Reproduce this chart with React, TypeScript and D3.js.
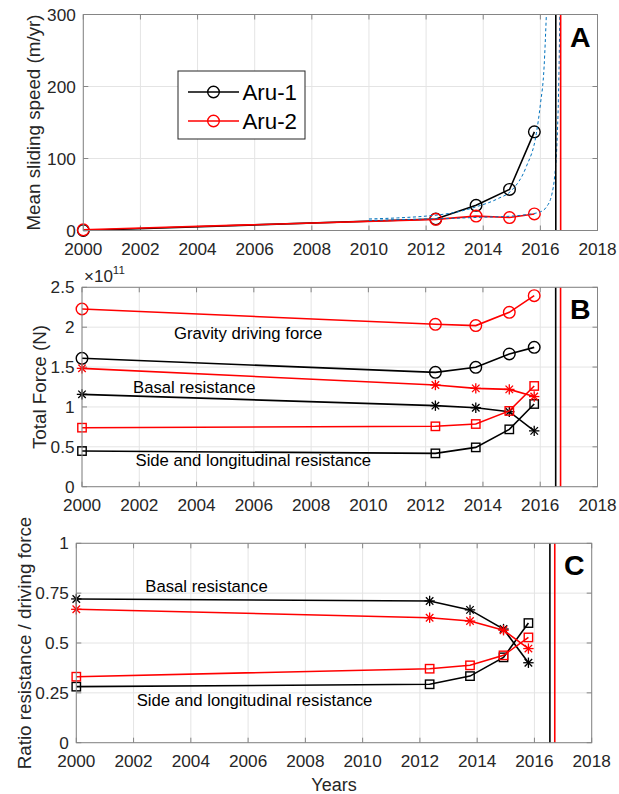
import React from "react";
import * as d3 from "d3";

// ---------- DATA ----------
const xTickYears = [2000, 2002, 2004, 2006, 2008, 2010, 2012, 2014, 2016, 2018];
const obsYears = [2000, 2012.34, 2013.75, 2014.92, 2015.79];

// Panel A: mean sliding speed (m/yr)
const speedAru1 = [0, 16, 35, 57, 137];
const speedAru2 = [1, 15.5, 20, 18, 23];
const fitAru1Years = [2010, 2011, 2012, 2012.5, 2013, 2013.76, 2014.5, 2015, 2015.5, 2015.86, 2016.0, 2016.13, 2016.21];
const fitAru1Speed = [16, 17.5, 20, 22, 25, 33, 44, 56, 88, 135, 175, 227, 300];
const fitAru2Years = [2010, 2012, 2013, 2014, 2015, 2015.5, 2016.0, 2016.2, 2016.4, 2016.5, 2016.58, 2016.63, 2016.66, 2016.68];
const fitAru2Speed = [14, 16, 17, 18.5, 20, 22, 26, 32, 50, 75, 120, 180, 240, 300];
const collapseAru1 = 2016.54;
const collapseAru2 = 2016.71;
const speedTicks = [0, 100, 200, 300];

// Panel B: total force (x10^11 N)
const gravityAru1 = [1.61, 1.434, 1.497, 1.664, 1.747];
const gravityAru2 = [2.228, 2.036, 2.02, 2.186, 2.395];
const basalAru1 = [1.158, 1.016, 0.99, 0.94, 0.7];
const basalAru2 = [1.484, 1.275, 1.233, 1.22, 1.13];
const sideAru1 = [0.447, 0.418, 0.493, 0.719, 1.037];
const sideAru2 = [0.74, 0.757, 0.786, 0.95, 1.263];
const forceTicks = [0, 0.5, 1, 1.5, 2, 2.5];

// Panel C: ratio resistance / driving force
const ratioBasalAru1 = [0.721, 0.711, 0.666, 0.57, 0.401];
const ratioBasalAru2 = [0.669, 0.627, 0.61, 0.564, 0.472];
const ratioSideAru1 = [0.281, 0.293, 0.334, 0.428, 0.6];
const ratioSideAru2 = [0.331, 0.371, 0.388, 0.438, 0.528];
const ratioTicks = [0, 0.25, 0.5, 0.75, 1];
const ratioTickLabels = ["0", "0.25", "0.5", "0.75", "1"];

const seriesNames = ["Aru-1", "Aru-2"];

// ---------- STYLE ----------
const FONT = "'Liberation Sans', Arial, Helvetica, sans-serif";
const TXT = "#262626";
const AXIS = "#858585";
const GRID = "#e4e4e4";
const RED = "#ff0000";
const BLACK = "#000000";
const BLUE = "#0072bd";
const TICK_FS = 17.2;
const TITLE_FS = 18.8;
const NOTE_FS = 16.7;

type Box = { left: number; right: number; top: number; bottom: number };

function makeScales(b: Box, domain: [number, number]) {
  const x = d3.scaleLinear().domain([2000, 2018]).range([b.left, b.right]);
  const y = d3.scaleLinear().domain(domain).range([b.bottom, b.top]);
  return { x, y };
}

function Frame({ b, x, y, yTicks, yLabels, title, titleX, letter }: any) {
  return (
    <g>
      {xTickYears.map((t) => (
        <line key={"gx" + t} x1={x(t)} x2={x(t)} y1={b.top} y2={b.bottom} stroke={GRID} strokeWidth={1} />
      ))}
      {yTicks.map((t: number) => (
        <line key={"gy" + t} x1={b.left} x2={b.right} y1={y(t)} y2={y(t)} stroke={GRID} strokeWidth={1} />
      ))}
      {xTickYears.map((t) => (
        <g key={"tx" + t}>
          <line x1={x(t)} x2={x(t)} y1={b.bottom} y2={b.bottom - 5} stroke={AXIS} />
          <line x1={x(t)} x2={x(t)} y1={b.top} y2={b.top + 5} stroke={AXIS} />
          <text x={x(t)} y={b.bottom + 24.5} textAnchor="middle" fontSize={TICK_FS} fill={TXT} fontFamily={FONT}>
            {t}
          </text>
        </g>
      ))}
      {yTicks.map((t: number, i: number) => (
        <g key={"ty" + t}>
          <line x1={b.left} x2={b.left + 5} y1={y(t)} y2={y(t)} stroke={AXIS} />
          <line x1={b.right} x2={b.right - 5} y1={y(t)} y2={y(t)} stroke={AXIS} />
          <text x={b.left - 7.5} y={y(t)} dy="0.36em" textAnchor="end" fontSize={TICK_FS} fill={TXT} fontFamily={FONT}>
            {yLabels ? yLabels[i] : String(t)}
          </text>
        </g>
      ))}
      <text
        transform={`translate(${titleX},${(b.top + b.bottom) / 2}) rotate(-90)`}
        textAnchor="middle"
        dominantBaseline="central"
        fontSize={TITLE_FS}
        fill={TXT}
        fontFamily={FONT}
      >
        {title}
      </text>
      <text x={b.right - 7} y={b.top + 32} textAnchor="end" fontSize={28.5} fontWeight="bold" fill={BLACK} fontFamily={FONT}>
        {letter}
      </text>
    </g>
  );
}

function BoxOutline({ b }: { b: Box }) {
  return <rect x={b.left} y={b.top} width={b.right - b.left} height={b.bottom - b.top} fill="none" stroke={AXIS} strokeWidth={1} />;
}

function Circle({ cx, cy, color }: any) {
  return <circle cx={cx} cy={cy} r={5.8} fill="none" stroke={color} strokeWidth={1.4} />;
}
function Square({ cx, cy, color }: any) {
  return <rect x={cx - 4.2} y={cy - 4.2} width={8.4} height={8.4} fill="none" stroke={color} strokeWidth={1.4} />;
}
function Star({ cx, cy, color }: any) {
  const r = 5.2;
  const d = r * 0.72;
  return (
    <g stroke={color} strokeWidth={1.3}>
      <line x1={cx - r} x2={cx + r} y1={cy} y2={cy} />
      <line x1={cx} x2={cx} y1={cy - r} y2={cy + r} />
      <line x1={cx - d} x2={cx + d} y1={cy - d} y2={cy + d} />
      <line x1={cx - d} x2={cx + d} y1={cy + d} y2={cy - d} />
    </g>
  );
}

function Series({ x, y, values, color, marker }: any) {
  const pts: [number, number][] = obsYears.map((yr, i) => [x(yr), y(values[i])]);
  const line = d3.line()(pts) || "";
  const M = marker === "o" ? Circle : marker === "s" ? Square : Star;
  return (
    <g>
      <path d={line} fill="none" stroke={color} strokeWidth={1.6} />
      {pts.map((p, i) => (
        <M key={i} cx={p[0]} cy={p[1]} color={color} />
      ))}
    </g>
  );
}

function Collapse({ x, b }: any) {
  return (
    <g>
      <line x1={x(collapseAru1)} x2={x(collapseAru1)} y1={b.top} y2={b.bottom} stroke={BLACK} strokeWidth={1.6} />
      <line x1={x(collapseAru2)} x2={x(collapseAru2)} y1={b.top} y2={b.bottom} stroke={RED} strokeWidth={1.6} />
    </g>
  );
}

function Note({ x, y, children }: any) {
  return (
    <text x={x} y={y} dy="0.36em" fontSize={NOTE_FS} fill={BLACK} fontFamily={FONT}>
      {children}
    </text>
  );
}

export default function App() {
  const bA: Box = { left: 83.3, right: 597.5, top: 14.5, bottom: 230.5 };
  const bB: Box = { left: 82, right: 597.5, top: 287.3, bottom: 486.7 };
  const bC: Box = { left: 76.3, right: 591.7, top: 543.3, bottom: 742.7 };
  const A = makeScales(bA, [0, 300]);
  const B = makeScales(bB, [0, 2.5]);
  const C = makeScales(bC, [0, 1]);

  const fitLine = d3
    .line<[number, number]>()
    .x((d) => A.x(d[0]))
    .y((d) => A.y(d[1]))
    .curve(d3.curveMonotoneX);
  const fit1 = fitLine(fitAru1Years.map((t, i) => [t, fitAru1Speed[i]])) || "";
  const fit2 = fitLine(fitAru2Years.map((t, i) => [t, fitAru2Speed[i]])) || "";

  const legX = 178, legY = 71, legW = 127, legH = 68;

  return (
    <svg width={619} height={794} style={{ position: "absolute", left: 0, top: 0, background: "#fff" }} fontFamily={FONT}>
      <rect width={619} height={794} fill="#fff" />
      {/* Panel A */}
      <Frame b={bA} x={A.x} y={A.y} yTicks={speedTicks} title="Mean sliding speed (m/yr)" titleX={33} letter="A" />
      <Series x={A.x} y={A.y} values={speedAru1} color={BLACK} marker="o" />
      <Series x={A.x} y={A.y} values={speedAru2} color={RED} marker="o" />
      <path d={fit1} fill="none" stroke={BLUE} strokeWidth={1} strokeDasharray="3,2.5" />
      <path d={fit2} fill="none" stroke={BLUE} strokeWidth={1} strokeDasharray="3,2.5" />
      <Collapse x={A.x} b={bA} />
      <BoxOutline b={bA} />
      <g>
        <rect x={legX} y={legY} width={legW} height={legH} fill="#fff" stroke={TXT} strokeWidth={1} />
        {seriesNames.map((n, i) => {
          const cy = legY + 21 + i * 29;
          const col = i === 0 ? BLACK : RED;
          return (
            <g key={n}>
              <line x1={188} x2={239} y1={cy} y2={cy} stroke={col} strokeWidth={1.6} />
              <Circle cx={213.5} cy={cy} color={col} />
              <text x={242.5} y={cy} dy="0.36em" fontSize={22.3} fill={BLACK} fontFamily={FONT}>
                {n}
              </text>
            </g>
          );
        })}
      </g>

      {/* Panel B */}
      <Frame b={bB} x={B.x} y={B.y} yTicks={forceTicks} title="Total Force (N)" titleX={39} letter="B" />
      <text x={84} y={bB.top - 5.5} fontSize={17} fill={TXT} fontFamily={FONT}>
        ×10<tspan fontSize={11.5} dy={-7.5}>11</tspan>
      </text>
      <Series x={B.x} y={B.y} values={gravityAru1} color={BLACK} marker="o" />
      <Series x={B.x} y={B.y} values={basalAru1} color={BLACK} marker="*" />
      <Series x={B.x} y={B.y} values={sideAru1} color={BLACK} marker="s" />
      <Series x={B.x} y={B.y} values={gravityAru2} color={RED} marker="o" />
      <Series x={B.x} y={B.y} values={basalAru2} color={RED} marker="*" />
      <Series x={B.x} y={B.y} values={sideAru2} color={RED} marker="s" />
      <Collapse x={B.x} b={bB} />
      <BoxOutline b={bB} />
      <Note x={174} y={333}>Gravity driving force</Note>
      <Note x={133} y={386.5}>Basal resistance</Note>
      <Note x={135.5} y={460}>Side and longitudinal resistance</Note>

      {/* Panel C */}
      <Frame b={bC} x={C.x} y={C.y} yTicks={ratioTicks} yLabels={ratioTickLabels} title="Ratio resistance / driving force" titleX={24} letter="C" />
      <Series x={C.x} y={C.y} values={ratioBasalAru1} color={BLACK} marker="*" />
      <Series x={C.x} y={C.y} values={ratioSideAru1} color={BLACK} marker="s" />
      <Series x={C.x} y={C.y} values={ratioBasalAru2} color={RED} marker="*" />
      <Series x={C.x} y={C.y} values={ratioSideAru2} color={RED} marker="s" />
      <Collapse x={C.x} b={bC} />
      <BoxOutline b={bC} />
      <Note x={145.3} y={585.6}>Basal resistance</Note>
      <Note x={136.7} y={700}>Side and longitudinal resistance</Note>
      <text x={(bC.left + bC.right) / 2} y={791} textAnchor="middle" fontSize={18} fill={TXT} fontFamily={FONT}>Years</text>
    </svg>
  );
}
